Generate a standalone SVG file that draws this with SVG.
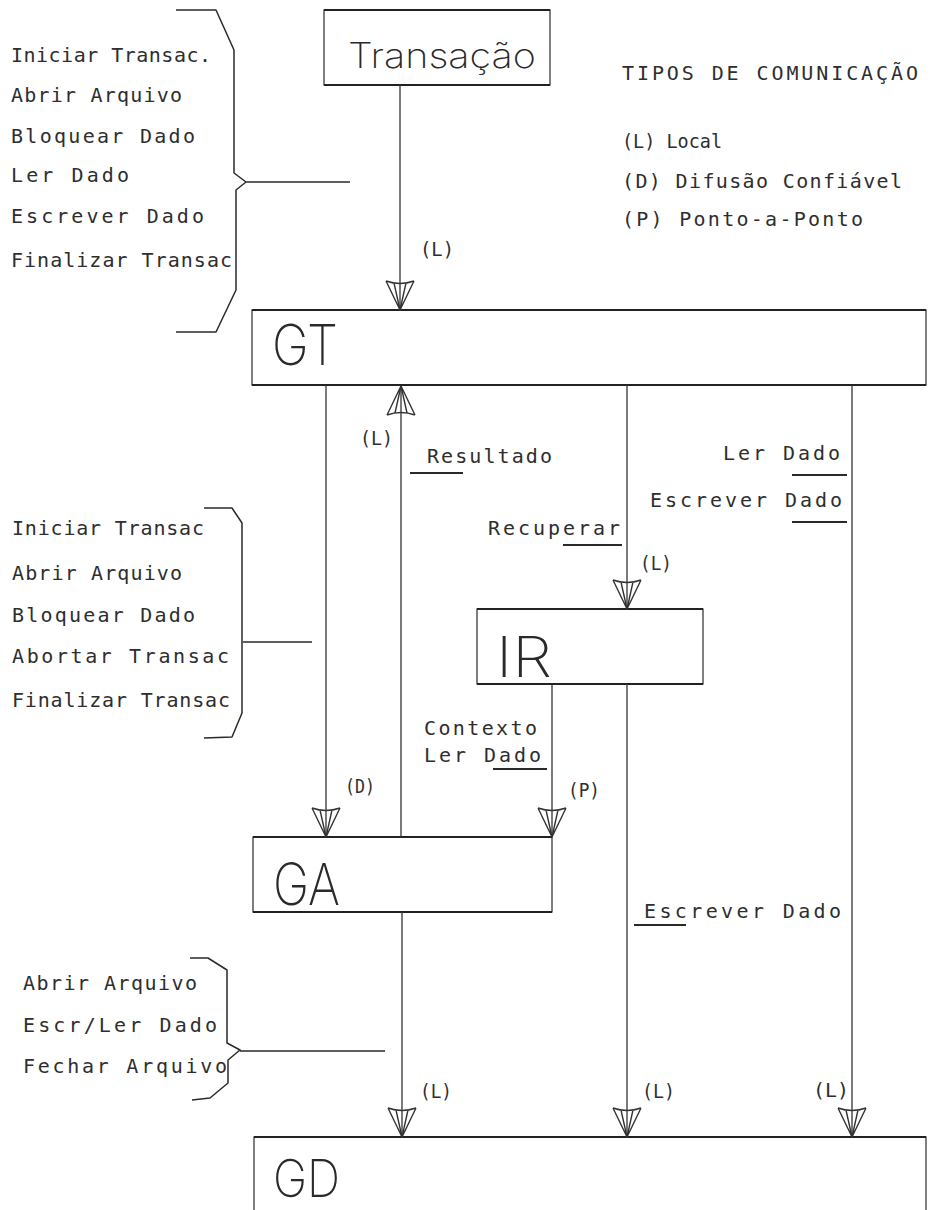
<svg xmlns="http://www.w3.org/2000/svg" width="931" height="1210" viewBox="0 0 931 1210">
  <defs>
    <style>
      .box { fill: none; stroke: #2a2a2a; stroke-width: 1.2; }
      .edge { fill: none; stroke: #222; stroke-width: 2.2; }
      .big { font-family: "Inter", "Roboto", "Open Sans", "DejaVu Sans", sans-serif; fill: #2a2a2a; font-weight: 200; }
      .t { font-family: "DejaVu Sans Mono", "Liberation Mono", monospace; font-size: 20px; fill: #2e2e2e; }
      .con { fill: none; stroke: #333; stroke-width: 1.3; }
      .brace { fill: none; stroke: #2a2a2a; stroke-width: 1.5; stroke-linejoin: round; }
      .ul { stroke: #2a2a2a; stroke-width: 2; }
    </style>
    <marker id="arr" markerUnits="userSpaceOnUse" viewBox="-32 -17 34 34" markerWidth="34" markerHeight="34" refX="0" refY="0" orient="auto" overflow="visible">
      <path d="M-29,-14 L0,0 L-29,14 M-29,-14 Q-24,0 -29,14 M-27,-6 L0,0 L-27,6" fill="none" stroke="#333" stroke-width="1.4" stroke-linejoin="round"/>
    </marker>
  </defs>
  <rect x="0" y="0" width="931" height="1210" fill="#ffffff"/>

  <!-- Nodes -->
  <g id="node-transacao">
    <rect class="box" x="324" y="10" width="226" height="75"/>
    <path class="edge" d="M324,10 H550 M324,85 H550"/>
    <text class="big" x="348" y="68" font-size="35" textLength="188" lengthAdjust="spacingAndGlyphs">Transação</text>
  </g>
  <g id="node-gt">
    <rect class="box" x="252" y="310" width="674" height="75"/>
    <path class="edge" d="M252,310 H926 M252,385 H926"/>
    <text class="big" x="272" y="365" font-size="56" textLength="66" lengthAdjust="spacingAndGlyphs">GT</text>
  </g>
  <g id="node-ir">
    <rect class="box" x="477" y="609" width="226" height="75"/>
    <path class="edge" d="M477,609 H703 M477,684 H703"/>
    <text class="big" x="496" y="677" font-size="56" textLength="56" lengthAdjust="spacingAndGlyphs">IR</text>
  </g>
  <g id="node-ga">
    <rect class="box" x="253" y="837" width="299" height="75"/>
    <path class="edge" d="M253,837 H552 M253,912 H552"/>
    <text class="big" x="273" y="905" font-size="58" textLength="67" lengthAdjust="spacingAndGlyphs">GA</text>
  </g>
  <g id="node-gd">
    <rect class="box" x="254" y="1137" width="672" height="110"/>
    <path class="edge" d="M254,1137 H926"/>
    <text class="big" x="273" y="1197" font-size="52" textLength="67" lengthAdjust="spacingAndGlyphs">GD</text>
  </g>

  <!-- Connectors -->
  <g id="connectors">
    <line class="con" x1="400" y1="85" x2="400" y2="310" marker-end="url(#arr)"/>
    <line class="con" x1="326" y1="385" x2="326" y2="837" marker-end="url(#arr)"/>
    <line class="con" x1="401" y1="837" x2="401" y2="386" marker-end="url(#arr)"/>
    <line class="con" x1="627" y1="385" x2="627" y2="609" marker-end="url(#arr)"/>
    <line class="con" x1="852" y1="385" x2="852" y2="1137" marker-end="url(#arr)"/>
    <line class="con" x1="552" y1="684" x2="552" y2="837" marker-end="url(#arr)"/>
    <line class="con" x1="627" y1="684" x2="627" y2="1137" marker-end="url(#arr)"/>
    <line class="con" x1="402" y1="912" x2="402" y2="1137" marker-end="url(#arr)"/>

    <text class="t" x="420" y="256" textLength="34" lengthAdjust="spacingAndGlyphs">(L)</text>
    <text class="t" x="360" y="445" textLength="33" lengthAdjust="spacingAndGlyphs">(L)</text>
    <text class="t" x="640" y="570" textLength="32" lengthAdjust="spacingAndGlyphs">(L)</text>
    <text class="t" x="345" y="793" textLength="30" lengthAdjust="spacingAndGlyphs">(D)</text>
    <text class="t" x="568" y="797" textLength="32" lengthAdjust="spacingAndGlyphs">(P)</text>
    <text class="t" x="420" y="1098" textLength="32" lengthAdjust="spacingAndGlyphs">(L)</text>
    <text class="t" x="642" y="1098" textLength="33" lengthAdjust="spacingAndGlyphs">(L)</text>
    <text class="t" x="813" y="1097" textLength="36" lengthAdjust="spacingAndGlyphs">(L)</text>

    <text class="t" x="427" y="463" textLength="125" lengthAdjust="spacing">Resultado</text>
    <line class="ul" x1="410" y1="473" x2="463" y2="473"/>
    <text class="t" x="723" y="460" textLength="117" lengthAdjust="spacing">Ler Dado</text>
    <line class="ul" x1="792" y1="475" x2="847" y2="475"/>
    <text class="t" x="650" y="507" textLength="192" lengthAdjust="spacing">Escrever Dado</text>
    <line class="ul" x1="792" y1="522" x2="847" y2="522"/>
    <text class="t" x="488" y="535" textLength="132" lengthAdjust="spacing">Recuperar</text>
    <line class="ul" x1="563" y1="545" x2="622" y2="545"/>
    <text class="t" x="424" y="735" textLength="113" lengthAdjust="spacing">Contexto</text>
    <text class="t" x="424" y="762" textLength="117" lengthAdjust="spacing">Ler Dado</text>
    <line class="ul" x1="493" y1="769" x2="547" y2="769"/>
    <text class="t" x="644" y="918" textLength="197" lengthAdjust="spacing">Escrever Dado</text>
    <line class="ul" x1="634" y1="925" x2="686" y2="925"/>
  </g>

  <!-- Brace 1 -->
  <g id="brace-1">
    <path class="brace" d="M176,10 L216,10 L234,50 L234,173 L246,182 L236,190 L236,290 L216,332 L176,332 M246,182 L350,182"/>
    <text class="t" x="11" y="62" textLength="200" lengthAdjust="spacing">Iniciar Transac.</text>
    <text class="t" x="11" y="102" textLength="171" lengthAdjust="spacing">Abrir Arquivo</text>
    <text class="t" x="11" y="143" textLength="184" lengthAdjust="spacing">Bloquear Dado</text>
    <text class="t" x="11" y="182" textLength="118" lengthAdjust="spacing">Ler Dado</text>
    <text class="t" x="11" y="223" textLength="193" lengthAdjust="spacing">Escrever Dado</text>
    <text class="t" x="11" y="267" textLength="221" lengthAdjust="spacing">Finalizar Transac</text>
  </g>

  <!-- Brace 2 -->
  <g id="brace-2">
    <path class="brace" d="M204,508 L232,508 L242,523 L242,713 L232,737 L204,738 M243,642 L312,642"/>
    <text class="t" x="12" y="535" textLength="192" lengthAdjust="spacing">Iniciar Transac</text>
    <text class="t" x="12" y="580" textLength="170" lengthAdjust="spacing">Abrir Arquivo</text>
    <text class="t" x="12" y="622" textLength="183" lengthAdjust="spacing">Bloquear Dado</text>
    <text class="t" x="12" y="663" textLength="217" lengthAdjust="spacing">Abortar Transac</text>
    <text class="t" x="12" y="707" textLength="218" lengthAdjust="spacing">Finalizar Transac</text>
  </g>

  <!-- Brace 3 -->
  <g id="brace-3">
    <path class="brace" d="M190,958 L208,958 L227,970 L227,1043 L240,1050 L228,1060 L228,1083 L210,1098 L192,1100 M240,1051 L385,1051"/>
    <text class="t" x="23" y="990" textLength="174" lengthAdjust="spacing">Abrir Arquivo</text>
    <text class="t" x="23" y="1032" textLength="194" lengthAdjust="spacing">Escr/Ler Dado</text>
    <text class="t" x="23" y="1073" textLength="204" lengthAdjust="spacing">Fechar Arquivo</text>
  </g>

  <!-- Legend -->
  <g id="legend">
    <text class="t" x="622" y="80" textLength="296" lengthAdjust="spacing">TIPOS DE COMUNICAÇÃO</text>
    <text class="t" x="622" y="148" textLength="100" lengthAdjust="spacingAndGlyphs">(L) Local</text>
    <text class="t" x="622" y="188" textLength="280" lengthAdjust="spacing">(D) Difusão Confiável</text>
    <text class="t" x="622" y="226" textLength="241" lengthAdjust="spacing">(P) Ponto-a-Ponto</text>
  </g>
</svg>
